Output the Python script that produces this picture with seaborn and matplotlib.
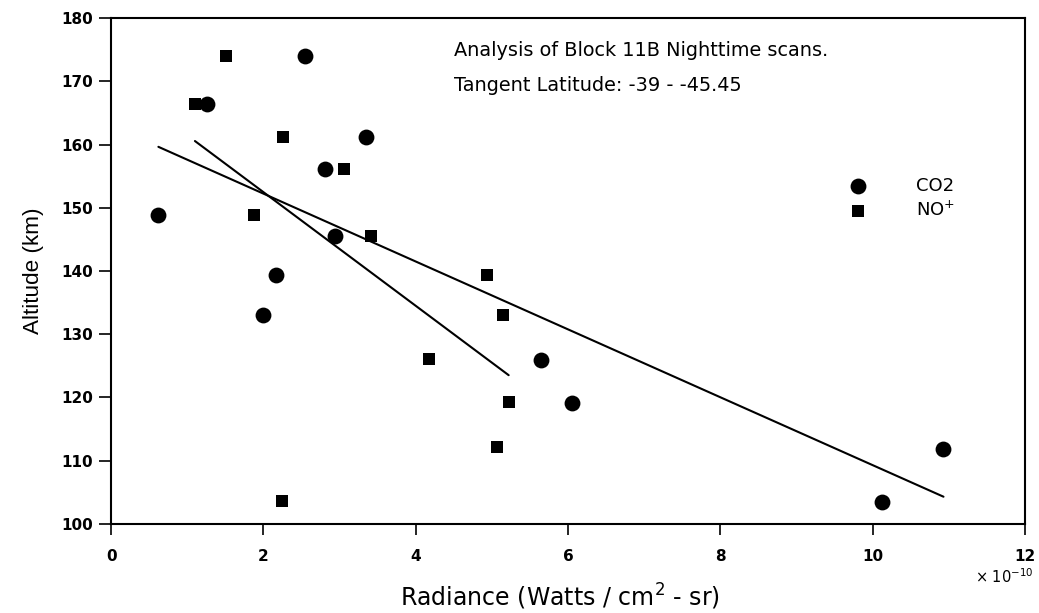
import numpy as np
import pandas as pd
import matplotlib
matplotlib.use("Agg")
import matplotlib.pyplot as plt
import seaborn as sns

# radiance in units of 1e-10 W / cm^2 - sr, altitude in km
co2_radiance = [2.55, 1.26, 3.35, 2.81, 0.62, 2.94, 2.17, 2.00, 5.64, 6.05, 10.93, 10.12]
co2_altitude = [174.0, 166.4, 161.2, 156.1, 148.8, 145.6, 139.3, 133.1, 126.0, 119.2, 111.8, 103.4]

nop_radiance = [1.51, 1.10, 2.25, 3.06, 1.88, 3.41, 4.93, 5.15, 4.18, 5.22, 5.07, 2.24]
nop_altitude = [174.0, 166.4, 161.2, 156.1, 148.9, 145.6, 139.3, 133.1, 126.1, 119.3, 112.2, 103.6]

x_ticks = [0, 2, 4, 6, 8, 10, 12]
y_ticks = [100, 110, 120, 130, 140, 150, 160, 170, 180]

co2 = pd.DataFrame({"Radiance": co2_radiance, "Altitude": co2_altitude})
nop = pd.DataFrame({"Radiance": nop_radiance, "Altitude": nop_altitude})

sns.set_theme(style="ticks")
plt.rcParams["font.family"] = ["DejaVu Sans"]
plt.rcParams["text.color"] = "black"
plt.rcParams["axes.labelcolor"] = "black"

fig = plt.figure(figsize=(10.39, 6.13), dpi=100)
ax = fig.add_axes([0.107, 0.1452, 0.8795, 0.8254])

# regression lines (least squares, no confidence band)
sns.regplot(data=co2, x="Radiance", y="Altitude", ax=ax, scatter=False, ci=None,
            line_kws={"color": "black", "lw": 1.5})
sns.regplot(data=nop, x="Radiance", y="Altitude", ax=ax, scatter=False, ci=None,
            line_kws={"color": "black", "lw": 1.5})

sns.scatterplot(data=co2, x="Radiance", y="Altitude", ax=ax, marker="o", s=130,
                color="black", edgecolor="black", linewidth=0, label="CO2", zorder=3)
sns.scatterplot(data=nop, x="Radiance", y="Altitude", ax=ax, marker="s", s=85,
                color="black", edgecolor="black", linewidth=0, label="NO$^{+}$", zorder=3)

ax.set_xlim(0, 12)
ax.set_ylim(100, 180)
ax.set_xticks(x_ticks)
ax.set_yticks(y_ticks)
ax.tick_params(axis="both", direction="out", width=1.2, colors="black", labelsize=11)
ax.tick_params(axis="x", length=8, pad=10)
ax.tick_params(axis="y", length=9, pad=4)
for lab in ax.get_xticklabels() + ax.get_yticklabels():
    lab.set_fontweight("bold")

for side in ["left", "right", "top", "bottom"]:
    ax.spines[side].set_visible(True)
    ax.spines[side].set_linewidth(1.5)
    ax.spines[side].set_color("black")

ax.set_xlabel("Radiance (Watts / cm$^{2}$ - sr)", fontsize=17)
ax.xaxis.set_label_coords(0.491, -0.115)
ax.set_ylabel("Altitude (km)", fontsize=16.2,
              family=["Liberation Sans Narrow", "Liberation Sans", "DejaVu Sans"])
ax.yaxis.set_label_coords(-0.074, 0.5)

ax.text(0.375, 0.935, "Analysis of Block 11B Nighttime scans.", transform=ax.transAxes,
        fontsize=13.9, va="center", ha="left")
ax.text(0.375, 0.866, "Tangent Latitude: -39 - -45.45", transform=ax.transAxes,
        fontsize=13.9, va="center", ha="left")
ax.text(0.945, -0.105, "× 10$^{-10}$", transform=ax.transAxes, fontsize=10.5,
        va="center", ha="left")

leg = ax.legend(loc="upper left", bbox_to_anchor=(0.79, 0.7), frameon=False,
                fontsize=13, handletextpad=2.2, labelspacing=0.32, borderaxespad=0)

fig.savefig("out.png", dpi=100)
